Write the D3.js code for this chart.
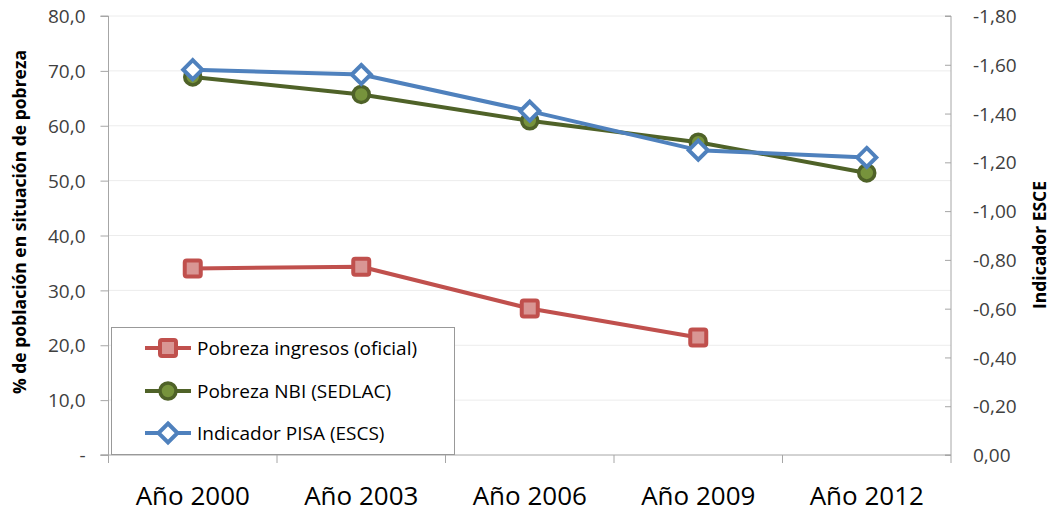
<!DOCTYPE html>
<html><head><meta charset="utf-8">
<script src="https://cdn.jsdelivr.net/npm/d3@7"></script>
<style>body{margin:0;background:#fff;} text{font-family:"Open Sans",sans-serif;}</style>
</head><body><svg id="c" width="1051" height="513"></svg>
<script>
const categories = ["Año 2000","Año 2003","Año 2006","Año 2009","Año 2012"];
const pobrezaIngresos = [34.0, 34.3, 26.7, 21.4, null];
const pobrezaNBI = [68.9, 65.7, 60.9, 57.0, 51.4];
const indicadorPISA = [-1.58, -1.56, -1.41, -1.25, -1.22];
const leftTicks = [0,10,20,30,40,50,60,70,80];
const rightTicks = [0,-0.2,-0.4,-0.6,-0.8,-1.0,-1.2,-1.4,-1.6,-1.8];
const seriesNames = ["Pobreza ingresos (oficial)","Pobreza NBI (SEDLAC)","Indicador PISA (ESCS)"];

const svg = d3.select("#c");
const L = 108.5, R = 951, T = 16, B = 455;
const x = d3.scaleBand().domain(categories).range([L, R]).padding(0);
const yL = d3.scaleLinear().domain([0, 80]).range([B, T]);
const yR = d3.scaleLinear().domain([0, -1.8]).range([B, T]);
const axisCol = "#a6a6a6", txtCol = "#404040";

// gridlines
svg.append("g").selectAll("line").data(leftTicks.filter(d=>d>0)).join("line")
  .attr("x1", L).attr("x2", R).attr("y1", d=>yL(d)).attr("y2", d=>yL(d))
  .attr("stroke", "#ececec").attr("stroke-width", 1);

// left axis
const fmtL = d => d === 0 ? "-" : d3.format(".1f")(d).replace(".", ",");
const gL = svg.append("g").attr("transform", `translate(${L},0)`)
  .call(d3.axisLeft(yL).tickValues(leftTicks).tickSize(8).tickPadding(15).tickFormat(fmtL));
gL.select(".domain").attr("stroke", axisCol).attr("d", `M-8,${T}H0V${B}H-8`);
gL.selectAll(".tick line").attr("stroke", axisCol);
gL.selectAll(".tick text").attr("fill", txtCol).style("font-size", "19px").attr("dy", "0.35em");

// right axis
const fmtR = d => d3.format(".2f")(d).replace(".", ",").replace("−", "-");
const gR = svg.append("g").attr("transform", `translate(${R},0)`)
  .call(d3.axisRight(yR).tickValues(rightTicks).tickSize(-6).tickPadding(22).tickFormat(fmtR));
gR.select(".domain").attr("stroke", axisCol).attr("d", `M-6,${T}H0V${B}H-6`);
gR.selectAll(".tick line").attr("stroke", axisCol);
gR.selectAll(".tick text").attr("fill", txtCol).style("font-size", "19px").attr("dy", "0.35em");

// bottom axis
const gB = svg.append("g").attr("transform", `translate(0,${B})`);
gB.append("line").attr("x1", L - 8).attr("x2", R).attr("y1", 0).attr("y2", 0).attr("stroke", axisCol);
const bounds = categories.map(c => x(c)).concat([R]);
gB.selectAll("line.tk").data(bounds).join("line").attr("class","tk")
  .attr("x1", d=>d).attr("x2", d=>d).attr("y1", 0).attr("y2", 8).attr("stroke", axisCol);
gB.selectAll("text").data(categories).join("text")
  .attr("x", d => x(d) + x.bandwidth()/2).attr("y", 50)
  .attr("text-anchor", "middle").attr("fill", "#000").style("font-size", "26px").text(d=>d);

// axis titles
svg.append("text").attr("transform", `translate(26,222) rotate(-90)`).attr("text-anchor","middle")
  .style("font-size","17.5px").style("font-weight","bold").attr("fill","#000")
  .text("% de población en situación de pobreza");
svg.append("text").attr("transform", `translate(1046,245) rotate(-90)`).attr("text-anchor","middle")
  .style("font-size","17.5px").style("font-weight","bold").attr("fill","#000")
  .text("Indicador ESCE");

// series
const cx = d => x(d) + x.bandwidth()/2;
const styles = [
  {stroke:"#c0504d", fill:"#d99694", shape:"square"},
  {stroke:"#4f6228", fill:"#77933c", shape:"circle"},
  {stroke:"#4f81bd", fill:"#ffffff", shape:"diamond"}
];
const data = [
  categories.map((c,i)=>({c, v:pobrezaIngresos[i], y: pobrezaIngresos[i]==null?null:yL(pobrezaIngresos[i])})),
  categories.map((c,i)=>({c, v:pobrezaNBI[i], y:yL(pobrezaNBI[i])})),
  categories.map((c,i)=>({c, v:indicadorPISA[i], y:yR(indicadorPISA[i])}))
];
function marker(g, st, px, py) {
  if (st.shape === "square") {
    g.append("rect").attr("x", px-8).attr("y", py-8).attr("width", 16).attr("height", 16).attr("rx", 2)
      .attr("fill", st.fill).attr("stroke", st.stroke).attr("stroke-width", 4);
  } else if (st.shape === "circle") {
    g.append("circle").attr("cx", px).attr("cy", py).attr("r", 8)
      .attr("fill", st.fill).attr("stroke", st.stroke).attr("stroke-width", 3.5);
  } else {
    const s = 9.5;
    g.append("path").attr("d", `M${px},${py-s}L${px+s},${py}L${px},${py+s}L${px-s},${py}Z`)
      .attr("fill", st.fill).attr("stroke", st.stroke).attr("stroke-width", 4);
  }
}
const line = d3.line().defined(d=>d.y!=null).x(d=>cx(d.c)).y(d=>d.y);
data.forEach((ser, k) => {
  const g = svg.append("g");
  g.append("path").datum(ser).attr("d", line).attr("fill","none")
    .attr("stroke", styles[k].stroke).attr("stroke-width", 4).attr("stroke-linejoin","round");
  ser.filter(d=>d.y!=null).forEach(d => marker(g, styles[k], cx(d.c), d.y));
});

// legend
const lg = svg.append("g");
lg.append("rect").attr("x", 111.5).attr("y", 327.5).attr("width", 343).attr("height", 127)
  .attr("fill", "#fff").attr("stroke", "#999").attr("stroke-width", 1);
const rowsY = [348, 391, 433];
seriesNames.forEach((n, k) => {
  lg.append("line").attr("x1", 145).attr("x2", 191).attr("y1", rowsY[k]).attr("y2", rowsY[k])
    .attr("stroke", styles[k].stroke).attr("stroke-width", 4);
  marker(lg, styles[k], 168, rowsY[k]);
  lg.append("text").attr("x", 197).attr("y", rowsY[k]).attr("dy", "0.35em")
    .attr("fill", "#000").style("font-size", "19px").text(n);
});
</script></body></html>
